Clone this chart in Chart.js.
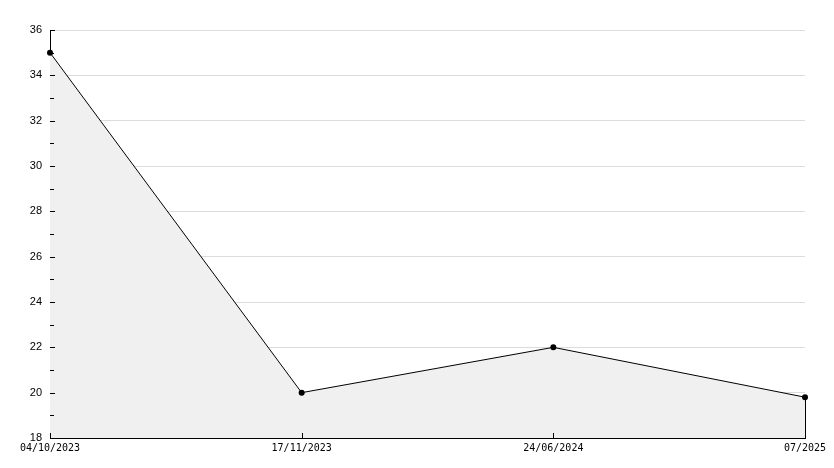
<!DOCTYPE html>
<html>
<head>
<meta charset="utf-8">
<script src="https://cdn.jsdelivr.net/npm/chart.js@4.4.1/dist/chart.umd.min.js"></script>
<style>
  html, body { margin: 0; padding: 0; background: #fff; }
  #wrap { width: 834px; height: 468px; }
</style>
</head>
<body>
<div id="wrap"><canvas id="chart" width="834" height="468"></canvas></div>
<script>
// ============ DATA ============
const labels = ["04/10/2023", "17/11/2023", "24/06/2024", "07/2025"];
const values = [35, 20, 22, 19.8];
const Y_MIN = 18;
const Y_MAX = 36;
const Y_STEP = 2;

// ============ PLUGINS ============
// ticks drawn inside the plot area, minor ticks between majors, closing edge on the right
const insideTicks = {
  id: "insideTicks",
  afterDatasetsDraw(chart) {
    const ctx = chart.ctx;
    const area = chart.chartArea;
    const y = chart.scales.y;
    const x = chart.scales.x;
    ctx.save();
    ctx.strokeStyle = "#000";
    ctx.lineWidth = 1;
    ctx.beginPath();
    for (let v = Y_MIN; v <= Y_MAX; v += Y_STEP / 2) {
      const py = Math.round(y.getPixelForValue(v)) + 0.5;
      const len = (v - Y_MIN) % Y_STEP === 0 ? 5 : 4;
      ctx.moveTo(area.left, py);
      ctx.lineTo(area.left + len, py);
    }
    labels.forEach((l, i) => {
      const px = Math.round(x.getPixelForValue(i)) + 0.5;
      ctx.moveTo(px, area.bottom);
      ctx.lineTo(px, area.bottom - 5);
    });
    const pts = chart.getDatasetMeta(0).data;
    const last = pts[pts.length - 1];
    const lx = Math.round(last.x) + 0.5;
    ctx.moveTo(lx, last.y);
    ctx.lineTo(lx, area.bottom);
    ctx.stroke();
    ctx.restore();
  }
};

// ============ CHART ============
new Chart(document.getElementById("chart"), {
  type: "line",
  plugins: [insideTicks],
  data: {
    labels,
    datasets: [{
      data: values,
      borderColor: "#000",
      borderWidth: 1,
      backgroundColor: "#f0f0f0",
      fill: "start",
      tension: 0,
      pointRadius: 3,
      pointBackgroundColor: "#000",
      pointBorderColor: "#000",
      pointBorderWidth: 0
    }]
  },
  options: {
    responsive: false,
    animation: false,
    layout: { padding: { top: 30, right: 29, left: 0, bottom: 0 } },
    plugins: { legend: { display: false }, tooltip: { enabled: false } },
    scales: {
      x: {
        offset: false,
        grid: { display: false, drawTicks: false },
        border: { color: "#000", width: 1 },
        ticks: {
          color: "#000",
          padding: 4,
          maxRotation: 0,
          autoSkip: false,
          font: { family: "DejaVu Sans Mono", size: 10 }
        },
        afterFit(scale) { scale.height = 30; }
      },
      y: {
        min: Y_MIN,
        max: Y_MAX,
        grid: { color: "#dcdcdc", drawTicks: false },
        border: { color: "#000", width: 1 },
        ticks: {
          stepSize: Y_STEP,
          color: "#000",
          padding: 8,
          font: { family: "Liberation Sans", size: 11 }
        },
        afterFit(scale) { scale.width = 50; }
      }
    }
  }
});
</script>
</body>
</html>
